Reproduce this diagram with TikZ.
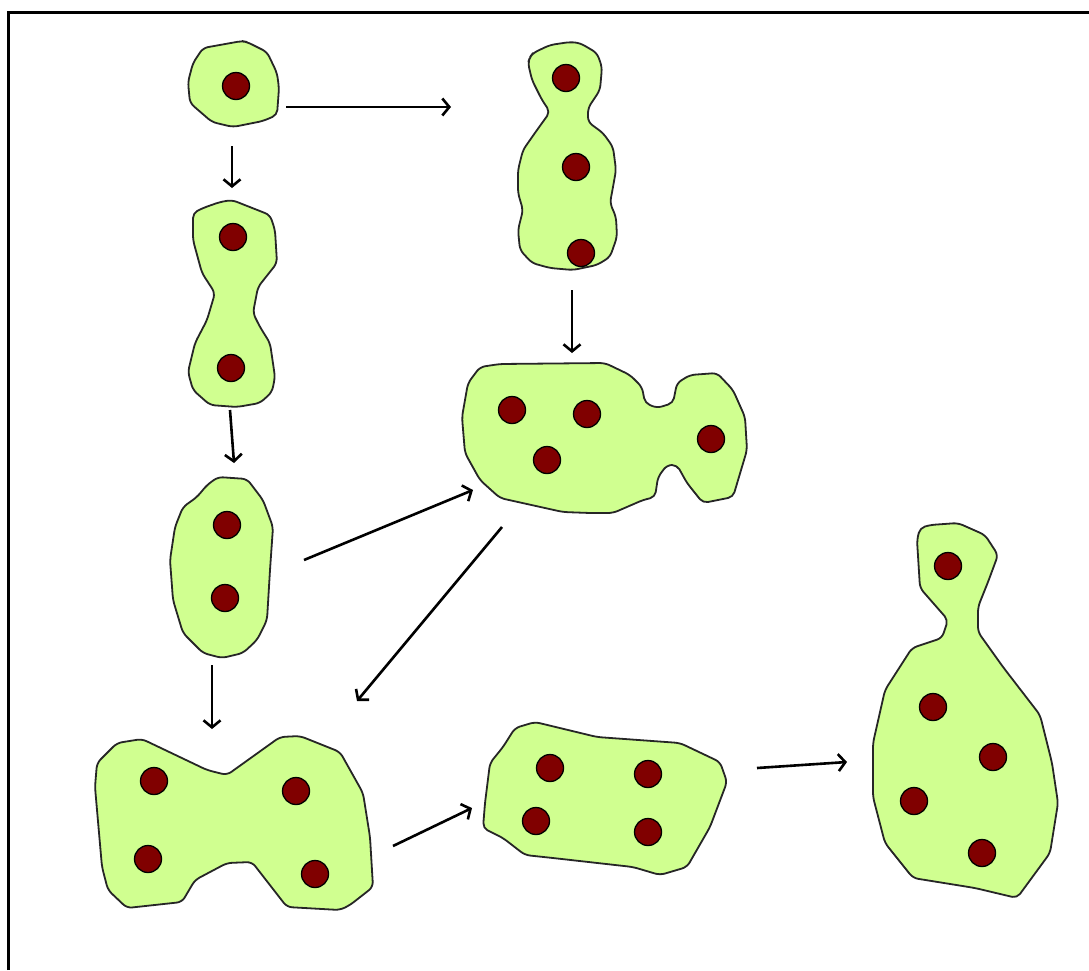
\documentclass[tikz,border=0pt]{standalone}
\usetikzlibrary{arrows.meta}
\definecolor{blobfill}{RGB}{208,255,144}
\definecolor{nucleus}{RGB}{128,0,0}
\tikzset{
  blob/.style={fill=blobfill, draw=black!85, line width=1.8pt, line join=round, rounded corners=5pt},
  cell/.style={circle, fill=nucleus, draw=black, line width=1.3pt, minimum size=27pt, inner sep=0pt},
  flow/.style={line width=2.6pt, -{Straight Barb[length=7pt, width=17pt, line width=2.6pt]}},
  frame/.style={line width=3pt}
}
\begin{document}
\begin{tikzpicture}[x=1pt,y=-1pt]
\useasboundingbox (0,0) rectangle (1089,970);
\fill[white] (0,0) rectangle (1089,970);
% outer frame (top and left edges)
\draw[frame] (8.5,970) -- (8.5,12.5) -- (1089,12.5);

% single cell
\draw[blob] (203,48) -- (242,41) -- (247,42) -- (267,52) -- (277,73) -- (279,88) -- (277,115) -- (263,121) -- (233,127) -- (212,122) -- (190,103) -- (188,82) -- (193,63) -- cycle;
\node[cell] (s1) at (236,86) {};

% chain of three
\draw[blob] (530,57) -- (533,53) -- (550,45) -- (570,42) -- (580,43) -- (597,53) -- (602,67) -- (600,90) -- (588,108) -- (588,122) -- (603,133) -- (613,147) -- (616,170) -- (613,187) -- (610,203) -- (616,217) -- (617,237) -- (610,257) -- (597,265) -- (573,270) -- (550,268) -- (532,263) -- (520,250) -- (518,230) -- (523,210) -- (518,193) -- (518,170) -- (523,150) -- (537,130) -- (550,112) -- (542,100) -- (532,80) -- (528,63) -- cycle;
\node[cell] (t1) at (566,78) {};
\node[cell] (t2) at (576,167) {};
\node[cell] (t3) at (581,253) {};

% dividing pair
\draw[blob] (193,213) -- (203,208) -- (220,202) -- (232,200) -- (270,215) -- (275,230) -- (277,263) -- (258,287) -- (253,313) -- (260,327) -- (270,343) -- (275,377) -- (272,392) -- (260,403) -- (237,407) -- (210,405) -- (193,390) -- (188,372) -- (195,343) -- (207,320) -- (215,293) -- (202,273) -- (193,240) -- cycle;
\node[cell] (d1) at (233,237) {};
\node[cell] (d2) at (231,368) {};

% oval pair
\draw[blob] (218,477) -- (247,479) -- (263,500) -- (273,527) -- (270,570) -- (267,620) -- (257,640) -- (243,653) -- (222,658) -- (203,653) -- (183,633) -- (173,600) -- (170,560) -- (175,527) -- (183,507) -- (197,497) -- (207,485) -- cycle;
\node[cell] (o1) at (227,525) {};
\node[cell] (o2) at (225,598) {};

% cluster of four with bud
\draw[blob] (480,367) -- (500,364) -- (605,363) -- (630,375) -- (642,387) -- (645,403) -- (657,408) -- (673,403) -- (677,383) -- (690,375) -- (717,373) -- (733,390) -- (745,417) -- (747,450) -- (733,497) -- (703,503) -- (687,483) -- (677,465) -- (667,465) -- (658,477) -- (655,497) -- (643,500) -- (613,513) -- (590,513) -- (563,512) -- (500,498) -- (480,480) -- (465,453) -- (462,417) -- (468,383) -- cycle;
\node[cell] (c1) at (512,410) {};
\node[cell] (c2) at (587,414) {};
\node[cell] (c3) at (547,460) {};
\node[cell] (c4) at (711,439) {};

% bow-tie group of four
\draw[blob] (117,743) -- (142,739) -- (207,770) -- (227,775) -- (280,737) -- (300,736) -- (340,752) -- (363,793) -- (370,837) -- (373,887) -- (350,905) -- (340,910) -- (287,907) -- (252,862) -- (227,863) -- (195,880) -- (182,902) -- (127,908) -- (108,890) -- (102,867) -- (95,787) -- (97,763) -- cycle;
\node[cell] (w1) at (154,781) {};
\node[cell] (w2) at (296,791) {};
\node[cell] (w3) at (148,859) {};
\node[cell] (w4) at (315,874) {};

% compact group of four
\draw[blob] (515,728) -- (535,722) -- (597,737) -- (680,743) -- (720,762) -- (727,782) -- (710,827) -- (687,867) -- (660,875) -- (633,867) -- (553,858) -- (525,855) -- (503,838) -- (483,828) -- (485,803) -- (490,763) -- (503,747) -- cycle;
\node[cell] (q1) at (550,768) {};
\node[cell] (q2) at (648,774) {};
\node[cell] (q3) at (536,821) {};
\node[cell] (q4) at (648,832) {};

% group of five
\draw[blob] (920,528) -- (930,525) -- (958,523) -- (985,535) -- (998,555) -- (988,582) -- (978,607) -- (978,632) -- (1003,667) -- (1040,715) -- (1052,763) -- (1058,803) -- (1050,853) -- (1017,898) -- (975,888) -- (913,878) -- (885,843) -- (873,797) -- (873,743) -- (885,690) -- (912,648) -- (942,638) -- (948,620) -- (920,588) -- (917,540) -- cycle;
\node[cell] (f1) at (948,566) {};
\node[cell] (f2) at (933,707) {};
\node[cell] (f3) at (993,757) {};
\node[cell] (f4) at (914,801) {};
\node[cell] (f5) at (982,853) {};

% connector end points
\coordinate (a1s) at (286,107);  \coordinate (a1e) at (451,107);
\coordinate (a2s) at (232,146);  \coordinate (a2e) at (232,188);
\coordinate (a3s) at (230,410);  \coordinate (a3e) at (234,463);
\coordinate (a4s) at (572,290);  \coordinate (a4e) at (572,353);
\coordinate (a5s) at (304,560);  \coordinate (a5e) at (473,490);
\coordinate (a6s) at (502,527);  \coordinate (a6e) at (357,701);
\coordinate (a7s) at (212,665);  \coordinate (a7e) at (212,729);
\coordinate (a8s) at (393,846);  \coordinate (a8e) at (472,808);
\coordinate (a9s) at (757,768);  \coordinate (a9e) at (847,762);

\draw[flow] (a1s) -- (a1e);
\draw[flow] (a2s) -- (a2e);
\draw[flow] (a3s) -- (a3e);
\draw[flow] (a4s) -- (a4e);
\draw[flow] (a5s) -- (a5e);
\draw[flow] (a6s) -- (a6e);
\draw[flow] (a7s) -- (a7e);
\draw[flow] (a8s) -- (a8e);
\draw[flow] (a9s) -- (a9e);
\end{tikzpicture}
\end{document}
